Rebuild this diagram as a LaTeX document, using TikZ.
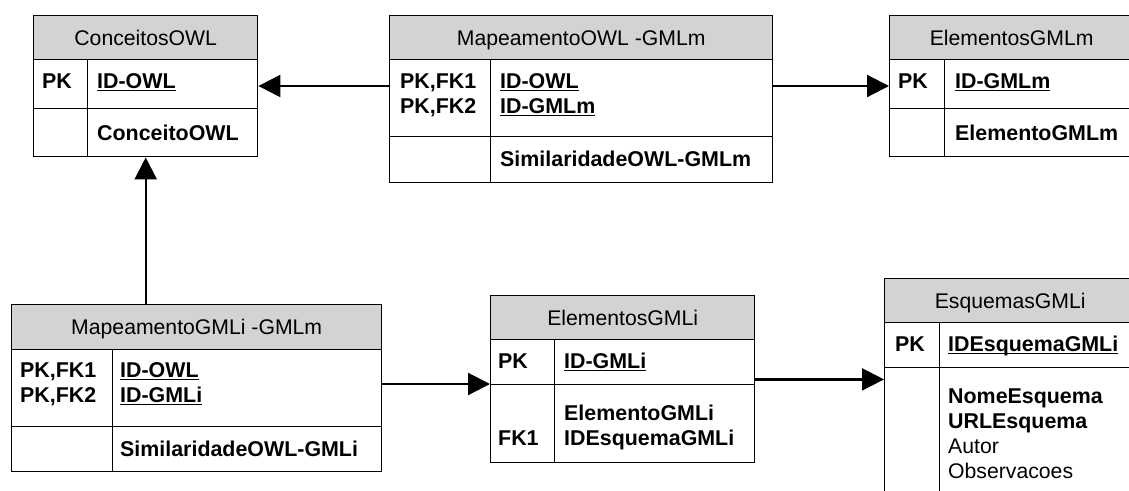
\documentclass[tikz,border=0pt]{standalone}
\usepackage{fontspec}
\setmainfont{Liberation Sans}
\usetikzlibrary{arrows.meta,calc}
\definecolor{hdrgray}{RGB}{211,211,211}
\newcommand{\ulx}[1]{\setbox0\hbox{#1}\rlap{\rule[-3pt]{\wd0}{1.5pt}}\box0}
\newcommand{\erdtab}[9]{%
  \node[hdrbox, minimum width={(#4-#2)*1pt}, minimum height={(#6-#5)*1pt}] (#1-h) at (#2,#5) {#9};
  \node[cellbox, minimum width={(#3-#2)*1pt}, minimum height={(#7-#6)*1pt}] (#1-k1) at (#2,#6) {};
  \node[cellbox, minimum width={(#4-#3)*1pt}, minimum height={(#7-#6)*1pt}] (#1-f1) at (#3,#6) {};
  \node[cellbox, minimum width={(#3-#2)*1pt}, minimum height={(#8-#7)*1pt}] (#1-k2) at (#2,#7) {};
  \node[cellbox, minimum width={(#4-#3)*1pt}, minimum height={(#8-#7)*1pt}] (#1-f2) at (#3,#7) {};
}
\tikzset{
  hdrbox/.style={draw, line width=1.4pt, fill=hdrgray, anchor=north west, inner sep=0pt,
    font=\fontsize{21.2}{25}\selectfont, text height=15.5pt, text depth=0pt},
  cellbox/.style={draw, line width=1.4pt, fill=white, anchor=north west, inner sep=0pt},
  bt/.style={anchor=base west, inner sep=0pt, font=\fontsize{21.4}{25}\selectfont\bfseries},
  rt/.style={anchor=base west, inner sep=0pt, font=\fontsize{21.2}{25}\selectfont},
  arr/.style={line width=2.2pt, -{Triangle[length=22pt,width=22pt]}},
}
\begin{document}
\begin{tikzpicture}[x=1pt,y=-1pt]
\useasboundingbox (0,0) rectangle (1129,490);
\clip (0,0) rectangle (1129,490);

% tables
\erdtab{co}{33}{87}{257}{15}{59}{108}{156}{ConceitosOWL}
\erdtab{mo}{389}{490}{772}{15}{59}{136}{182}{MapeamentoOWL -GMLm}
\erdtab{em}{889}{944}{1133}{15}{59}{108}{156}{ElementosGMLm}
\erdtab{mg}{11}{112}{381}{304}{349}{426}{471}{MapeamentoGMLi -GMLm}
\erdtab{eg}{490}{554}{754}{295}{339}{384}{462}{ElementosGMLi}
\erdtab{es}{884}{939}{1135}{278}{322}{367}{500}{EsquemasGMLi}

% ConceitosOWL
\node[bt] (co-pk) at (42,88) {PK};
\node[bt] (co-id) at (97,88) {\ulx{ID-OWL}};
\node[bt] (co-c) at (97,140) {ConceitoOWL};

% MapeamentoOWL-GMLm
\node[bt] (mo-ka) at (400,88) {PK,FK1};
\node[bt] (mo-kb) at (400,113) {PK,FK2};
\node[bt] (mo-a) at (500,88) {\ulx{ID-OWL}};
\node[bt] (mo-b) at (500,113) {\ulx{ID-GMLm}};
\node[bt] (mo-s) at (500,166) {SimilaridadeOWL-GMLm};

% ElementosGMLm
\node[bt] (em-pk) at (898,88) {PK};
\node[bt] (em-id) at (955,88) {\ulx{ID-GMLm}};
\node[bt] (em-e) at (955,140) {ElementoGMLm};

% MapeamentoGMLi-GMLm
\node[bt] (mg-ka) at (20,377) {PK,FK1};
\node[bt] (mg-kb) at (20,402) {PK,FK2};
\node[bt] (mg-a) at (120,377) {\ulx{ID-OWL}};
\node[bt] (mg-b) at (120,402) {\ulx{ID-GMLi}};
\node[bt] (mg-s) at (120,456) {SimilaridadeOWL-GMLi};

% ElementosGMLi
\node[bt] (eg-pk) at (498,368) {PK};
\node[bt] (eg-id) at (564,368) {\ulx{ID-GMLi}};
\node[bt] (eg-e) at (564,420) {ElementoGMLi};
\node[bt] (eg-i) at (564,445) {IDEsquemaGMLi};
\node[bt] (eg-fk) at (498,445) {FK1};

% EsquemasGMLi
\node[bt] (es-pk) at (895,351) {PK};
\node[bt] (es-id) at (948,351) {\ulx{IDEsquemaGMLi}};
\node[bt] (es-n) at (948,403.5) {NomeEsquema};
\node[bt] (es-u) at (948,428) {URLEsquema};
\node[rt] (es-a) at (948,453) {Autor};
\node[rt] (es-o) at (948,478) {Observacoes};

% connectors
\draw[arr] ([yshift=-27pt]mo-k1.north west) -- ([yshift=-27pt]co-f1.north east);
\draw[arr] ([yshift=-27pt]mo-f1.north east) -- ([yshift=-27pt]em-k1.north west);
\draw[arr] (co-h.center |- mg-h.north) -- (co-h.center |- co-k2.south);
\draw[arr] (mg-f1.east |- eg-k2.north west) -- (eg-k2.north west);
\coordinate (a5) at ([yshift=6pt]eg-f1.south east);
\draw[arr] (a5) -- (a5 -| es-k2.west);
\end{tikzpicture}
\end{document}
